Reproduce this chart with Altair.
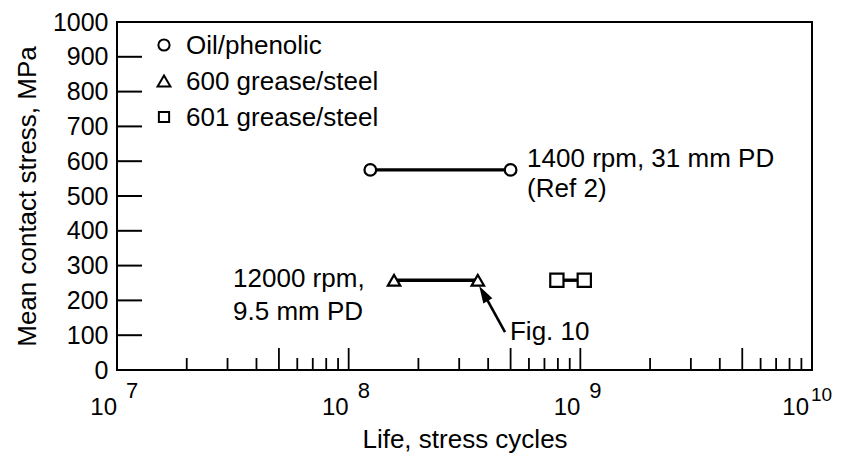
import altair as alt
import pandas as pd

FONT = "Liberation Sans"

# ---- data ----
series = ["Oil/phenolic", "600 grease/steel", "601 grease/steel"]
shapes = ["circle", "triangle-up", "square"]
marker_sizes = [135, 175, 115]

oil_x = [1.24e8, 5.0e8]
oil_y = [575, 575]
g600_x = [1.57e8, 3.61e8]
g600_y = [258, 258]
g601_x = [7.92e8, 1.04e9]
g601_y = [258, 258]

y_label_vals = [0, 100, 200, 300, 400, 500, 600, 700, 800, 900, 1000]
y_tick_vals = [100, 200, 300, 400, 500, 600, 700, 800, 900]

decades = [1e7, 1e8, 1e9]
minor_x = [k * d for d in decades for k in (2, 3, 4, 6, 7, 8, 9)]
major_x = [5e7, 1e8, 5e8, 1e9, 5e9]

xlabel_vals = [1e7, 1e8, 1e9, 1e10]
xlabel_exp = ["7", "8", "9", "10"]

annot_text = ["1400 rpm, 31 mm PD", "(Ref 2)", "12000 rpm,", "9.5 mm PD", "Fig. 10"]
annot_x = [5.89e8, 5.89e8, 3.17e7, 3.17e7, 4.97e8]
annot_y = [583, 497, 238, 144, 86]

arrow_x = [4.73e8, 3.92e8]
arrow_y = [109, 207]
head_x = [3.82e8]
head_y = [220]

W, H = 695, 348

# ---- tables ----
pts = pd.DataFrame({
    "series": [series[0]] * 2 + [series[1]] * 2 + [series[2]] * 2,
    "x": oil_x + g600_x + g601_x,
    "y": oil_y + g600_y + g601_y,
})
yt = pd.DataFrame({"y": y_tick_vals})
mnr = pd.DataFrame({"x": minor_x})
mjr = pd.DataFrame({"x": major_x})
xl = pd.DataFrame({"x": xlabel_vals, "base": ["10"] * 4, "exp": xlabel_exp})
ann = pd.DataFrame({"x": annot_x, "y": annot_y, "t": annot_text})
arr = pd.DataFrame({"x": [arrow_x[0]], "x2": [arrow_x[1]], "y": [arrow_y[0]], "y2": [arrow_y[1]]})
head = pd.DataFrame({"x": head_x, "y": head_y})

xscale = alt.Scale(type="log", domain=[1e7, 1e10], nice=False)
yscale = alt.Scale(domain=[0, 1000], nice=False, zero=True)

xaxis = alt.Axis(labels=False, ticks=False, domain=False, grid=False,
                 title="Life, stress cycles", titleFontSize=26,
                 titleFontWeight="normal", titleFont=FONT,
                 titleColor="black", titlePadding=56)
yaxis = alt.Axis(values=y_label_vals, format="d", ticks=False, tickSize=0,
                 domain=False, grid=False, labelFontSize=25, labelFont=FONT,
                 labelColor="black", labelPadding=9, labelFlush=False,
                 labelOverlap=False,
                 title="Mean contact stress, MPa", titleFontSize=26,
                 titleFontWeight="normal", titleFont=FONT, titleColor="black",
                 titleX=-82, titleY=H / 2, titleAngle=270,
                 titleBaseline="alphabetic", titleAlign="center")


def X(f="x"):
    return alt.X(f"{f}:Q", scale=xscale, axis=xaxis, title="Life, stress cycles")


def Y(f="y"):
    return alt.Y(f"{f}:Q", scale=yscale, axis=yaxis, title="Mean contact stress, MPa")


lines = alt.Chart(pts).mark_line(color="black", strokeWidth=3.4).encode(
    x=X(), y=Y(), detail="series:N")

points = alt.Chart(pts).mark_point(filled=True, fill="white", stroke="black",
                                   strokeWidth=2.2, opacity=1).encode(
    x=X(), y=Y(),
    shape=alt.Shape("series:N", scale=alt.Scale(domain=series, range=shapes),
                    legend=None),
    size=alt.Size("series:N", scale=alt.Scale(domain=series, range=marker_sizes),
                  legend=None))

yticks = alt.Chart(yt).mark_rule(color="black", strokeWidth=2).encode(
    y=Y(), x=alt.value(0), x2=alt.value(25))

minor = alt.Chart(mnr).mark_rule(color="black", strokeWidth=1.8).encode(
    x=X(), y=alt.value(H), y2=alt.value(H - 12))
major = alt.Chart(mjr).mark_rule(color="black", strokeWidth=1.8).encode(
    x=X(), y=alt.value(H), y2=alt.value(H - 22))

# decade labels "10" with superscript exponent; the last one sits flush with the edge
xl_inner = alt.Chart(xl).transform_filter("datum.x < 5e9")
xl_edge = alt.Chart(xl).transform_filter("datum.x > 5e9")

xbase = xl_inner.mark_text(align="right", baseline="alphabetic", fontSize=24,
                           font=FONT, color="black", dx=0).encode(
    x=X(), y=alt.value(H + 45), text="base:N")
xexp = xl_inner.mark_text(align="left", baseline="alphabetic", fontSize=22,
                          font=FONT, color="black", dx=9).encode(
    x=X(), y=alt.value(H + 28), text="exp:N")
xbase_e = xl_edge.mark_text(align="right", baseline="alphabetic", fontSize=24,
                            font=FONT, color="black", dx=-3).encode(
    x=X(), y=alt.value(H + 45), text="base:N")
xexp_e = xl_edge.mark_text(align="left", baseline="alphabetic", fontSize=19,
                           font=FONT, color="black", dx=-1).encode(
    x=X(), y=alt.value(H + 31), text="exp:N")

annots = alt.Chart(ann).mark_text(align="left", baseline="alphabetic", fontSize=26,
                                  font=FONT, color="black").encode(
    x=X(), y=Y(), text="t:N")

arrow = alt.Chart(arr).mark_rule(color="black", strokeWidth=2.6).encode(
    x=X(), x2="x2:Q", y=Y(), y2="y2:Q")
arrowhead = alt.Chart(head).mark_point(shape="M0,-1L0.6,1L-0.6,1Z", filled=True,
                                       color="black", opacity=1, size=300,
                                       angle=330).encode(x=X(), y=Y())

# manual legend (symbol + label per series), laid out in pixels
legend_layers = []
for i, (s, shp, sz) in enumerate(zip(series, shapes, marker_sizes)):
    ldf = pd.DataFrame({"label": [s]})
    ypix = 23 + i * 36
    legend_layers.append(
        alt.Chart(ldf).mark_point(shape=shp, filled=True, fill="white", stroke="black",
                                  strokeWidth=2, opacity=1, size=sz - 10).encode(
            x=alt.value(47), y=alt.value(ypix)))
    legend_layers.append(
        alt.Chart(ldf).mark_text(align="left", baseline="middle", fontSize=26,
                                 font=FONT, color="black").encode(
            x=alt.value(69), y=alt.value(ypix + 1), text="label:N"))

chart = alt.layer(
    lines, yticks, minor, major, xbase, xexp, xbase_e, xexp_e, annots, arrow,
    arrowhead, points, *legend_layers
).properties(
    width=W, height=H,
    autosize=alt.AutoSizeParams(type="none"),
    padding={"left": 109, "top": 14, "right": 24, "bottom": 84},
).configure(font=FONT).configure_view(stroke="black", strokeWidth=2)

chart.save("out.html", embed_options={"renderer": "svg", "actions": False})
